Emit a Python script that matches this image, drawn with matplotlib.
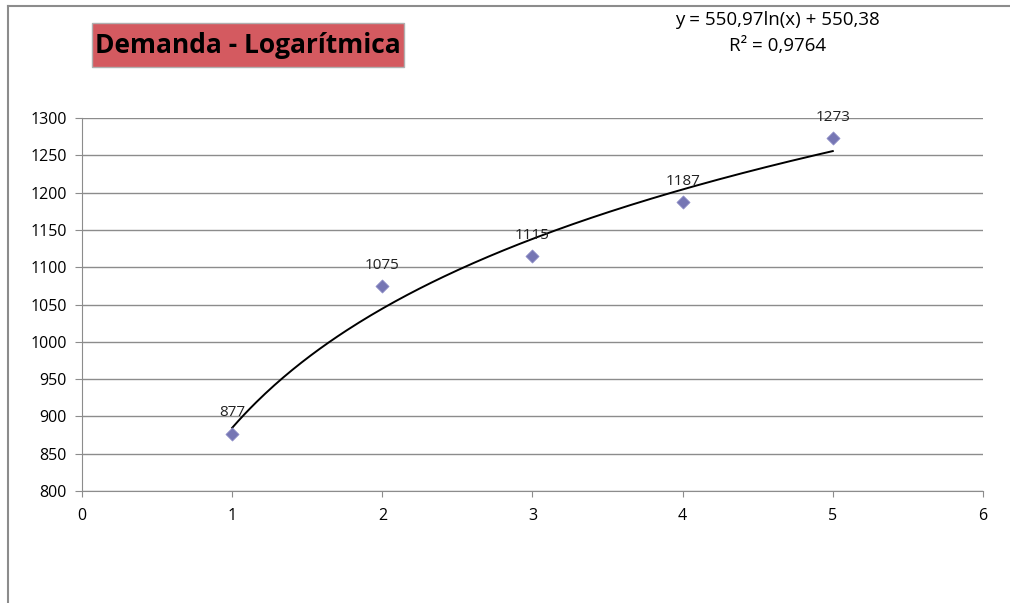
import numpy as np
import matplotlib
matplotlib.use("Agg")
import matplotlib.pyplot as plt
from matplotlib.lines import Line2D
from matplotlib.patches import Rectangle

plt.rcParams['font.family'] = ['Open Sans', 'DejaVu Sans']

# demanda por periodo
periodos = [1, 2, 3, 4, 5]
demanda = [877, 1075, 1115, 1187, 1273]

# texto de la ecuacion tal como aparece en el grafico
eq_txt = "y = 550,97ln(x) + 550,38"
r2_txt = "R² = 0,9764"

fig = plt.figure(figsize=(10.1, 6.03), dpi=100)
ax = fig.add_axes([0.0812, 0.1857, 0.892, 0.6186])

# linea de tendencia logaritmica (minimos cuadrados sobre ln(x))
a, b = np.polyfit(np.log(periodos), demanda, 1)
xt = np.linspace(1, 5, 200)
ax.plot(xt, a * np.log(xt) + b, color='black', lw=1.4, zorder=3)
ax.scatter(periodos, demanda, marker='D', s=45, color='#7676b4',
           edgecolors='#9090c8', linewidths=0.5, zorder=4)
for x, y in zip(periodos, demanda):
    ax.annotate(str(y), (x, y), xytext=(0, 9.5), textcoords='offset points',
                ha='center', va='bottom', fontsize=11, color='#222222')

ax.set_xlim(0, 6)
ax.set_ylim(800, 1300)
ax.set_xticks(range(0, 7))
ax.set_yticks(range(800, 1301, 50))
ax.grid(axis='y', color='#8c8c8c', lw=1.0)
ax.set_axisbelow(True)
for s in ['top', 'right']:
    ax.spines[s].set_visible(False)
ax.spines['left'].set_color('#8c8c8c')
ax.spines['bottom'].set_color('#8c8c8c')
ax.tick_params(axis='y', direction='out', length=5, color='#8c8c8c',
               labelsize=11.5, pad=6)
ax.tick_params(axis='x', direction='out', length=4, color='#8c8c8c',
               labelsize=11.5, pad=8)

# titulo en recuadro rojo
fig.add_artist(Rectangle((0.0911, 0.889), 0.309, 0.073, transform=fig.transFigure,
                         fc='#d45a60', ec='#b0b0b0', lw=1))
fig.text(0.2455, 0.925, "Demanda - Logarítmica", fontsize=19, fontweight='bold',
         color='black', ha='center', va='center')

# ecuacion de la tendencia
fig.text(0.7695, 0.967, eq_txt, fontsize=13.5, ha='center', va='center')
fig.text(0.7695, 0.924, r2_txt, fontsize=13.5, ha='center', va='center')

# marco del grafico
fig.add_artist(Line2D([0.008, 1.0], [0.990, 0.990], transform=fig.transFigure,
                      color='#8c8c8c', lw=1.5))
fig.add_artist(Line2D([0.008, 0.008], [0.0, 0.990], transform=fig.transFigure,
                      color='#8c8c8c', lw=1.5))

fig.savefig("out.png", dpi=100)
